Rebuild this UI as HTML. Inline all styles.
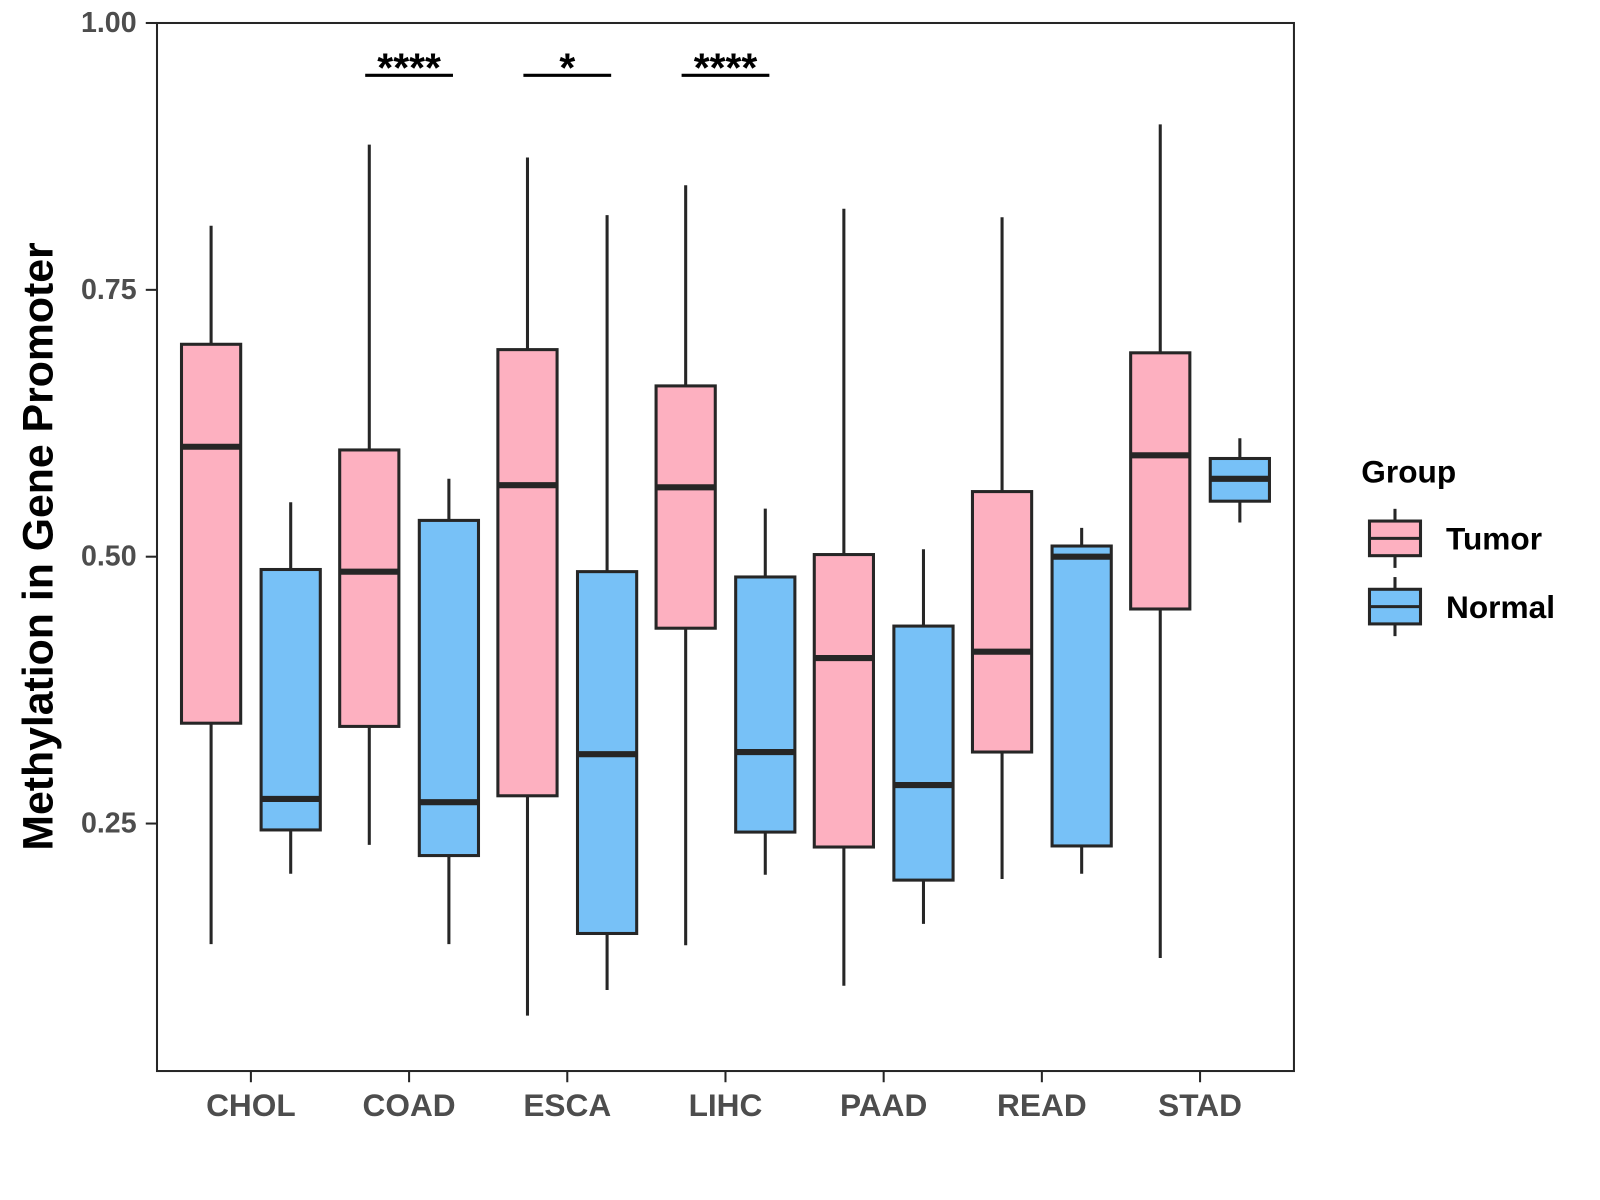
<!DOCTYPE html>
<html><head><meta charset="utf-8"><style>
body{margin:0;background:#fff}
svg{display:block;font-family:"Liberation Sans",Arial,sans-serif}
</style></head><body>
<svg id="chart" width="1600" height="1200" viewBox="0 0 1600 1200">
<g transform="matrix(1.0206 0 0 1.0185 -0.17 1.61)">
<rect x="154" y="21" width="1114" height="1029" fill="#fff" stroke="#262626" stroke-width="2"/>
<g id="yaxis"></g>
<g id="xaxis"></g>
<g id="boxes"></g>
<g id="sig"></g>
<text x="38" y="535" transform="rotate(-90 38 535)" text-anchor="middle" dominant-baseline="central" font-size="42" font-weight="bold" fill="#000">Methylation in Gene Promoter</text>
<g>
<text x="1334" y="472" font-size="31" font-weight="bold" fill="#000">Group</text>
<g>
<line x1="1367" y1="498" x2="1367" y2="556" stroke="#262626" stroke-width="3"/>
<rect x="1342" y="510" width="50" height="34" fill="#FDB0C0" stroke="#262626" stroke-width="3"/>
<line x1="1342" y1="527" x2="1392" y2="527" stroke="#262626" stroke-width="3"/>
<text x="1417" y="538" font-size="31" font-weight="bold" fill="#000">Tumor</text>
</g>
<g>
<line x1="1367" y1="565" x2="1367" y2="623" stroke="#262626" stroke-width="3"/>
<rect x="1342" y="577" width="50" height="34" fill="#77C1F7" stroke="#262626" stroke-width="3"/>
<line x1="1342" y1="594" x2="1392" y2="594" stroke="#262626" stroke-width="3"/>
<text x="1417" y="605" font-size="31" font-weight="bold" fill="#000">Normal</text>
</g>
</g>
</g>
</svg>
<script>
const categories=["CHOL","COAD","ESCA","LIHC","PAAD","READ","STAD"];
// [low, q1, median, q3, high]
const tumorStats=[[0.137,0.344,0.603,0.699,0.810],[0.230,0.341,0.486,0.600,0.886],[0.070,0.276,0.567,0.694,0.874],[0.136,0.433,0.565,0.660,0.848],[0.098,0.228,0.405,0.502,0.826],[0.198,0.317,0.411,0.561,0.818],[0.124,0.451,0.595,0.691,0.905]];
const normalStats=[[0.203,0.244,0.273,0.488,0.551],[0.137,0.220,0.270,0.534,0.573],[0.094,0.147,0.315,0.486,0.820],[0.202,0.242,0.317,0.481,0.545],[0.156,0.197,0.286,0.435,0.507],[0.203,0.229,0.500,0.510,0.527],[0.532,0.552,0.573,0.592,0.611]];
const yTicks=[0.25,0.50,0.75,1.00];
const yTickLabels=["0.25","0.50","0.75","1.00"];
const sigCategories=["COAD","ESCA","LIHC"];
const sigLabels=["****","*","****"];
const sigLevel=0.951;

const NS="http://www.w3.org/2000/svg";
const y=v=>21+(1-v)*1048;
const x=i=>246+i*155;
function mk(tag,attrs,parent){const e=document.createElementNS(NS,tag);for(const k in attrs)e.setAttribute(k,attrs[k]);parent.appendChild(e);return e;}
const ya=document.getElementById('yaxis'),xa=document.getElementById('xaxis'),bx=document.getElementById('boxes'),sg=document.getElementById('sig');
yTicks.forEach((t,i)=>{
  const l=mk('line',{x1:143,x2:154,y1:y(t),y2:y(t),stroke:'#262626','stroke-width':2},ya);
  
  
  const tx=mk('text',{x:134,y:y(t),'text-anchor':'end','dominant-baseline':'central','font-size':28,'font-weight':'bold',fill:'#4d4d4d'},ya);
  tx.textContent=yTickLabels[i];
  
  
});
categories.forEach((c,i)=>{
  const l=mk('line',{x1:x(i),x2:x(i),y1:1050,y2:1061,stroke:'#262626','stroke-width':2},xa);
  
  
  const tx=mk('text',{x:x(i),y:1094,'text-anchor':'middle','font-size':31,'font-weight':'bold',fill:'#4d4d4d'},xa);
  tx.textContent=c;
  
  
});
function box(cx,s,fill,name){
  const g=mk('g',{},bx);
  
  
  mk('line',{x1:cx,x2:cx,y1:y(s[4]),y2:y(s[0]),stroke:'#262626','stroke-width':3},g);
  mk('rect',{x:cx-29,y:y(s[3]),width:58,height:y(s[1])-y(s[3]),fill:fill,stroke:'#262626','stroke-width':3},g);
  mk('line',{x1:cx-29,x2:cx+29,y1:y(s[2]),y2:y(s[2]),stroke:'#262626','stroke-width':6},g);
}
categories.forEach((c,i)=>{
  box(x(i)-39,tumorStats[i],'#FDB0C0','box-tumor-'+c.toLowerCase());
  box(x(i)+39,normalStats[i],'#77C1F7','box-normal-'+c.toLowerCase());
});
sigCategories.forEach((c,k)=>{
  const i=categories.indexOf(c);
  const l=mk('line',{x1:x(i)-43,x2:x(i)+43,y1:y(sigLevel),y2:y(sigLevel),stroke:'#000','stroke-width':3},sg);
  
  
  const t=mk('text',{x:x(i),y:y(sigLevel)+6,'text-anchor':'middle','font-size':40,'font-weight':'bold',fill:'#000'},sg);
  t.textContent=sigLabels[k];
  
  
});
</script>
</body></html>
